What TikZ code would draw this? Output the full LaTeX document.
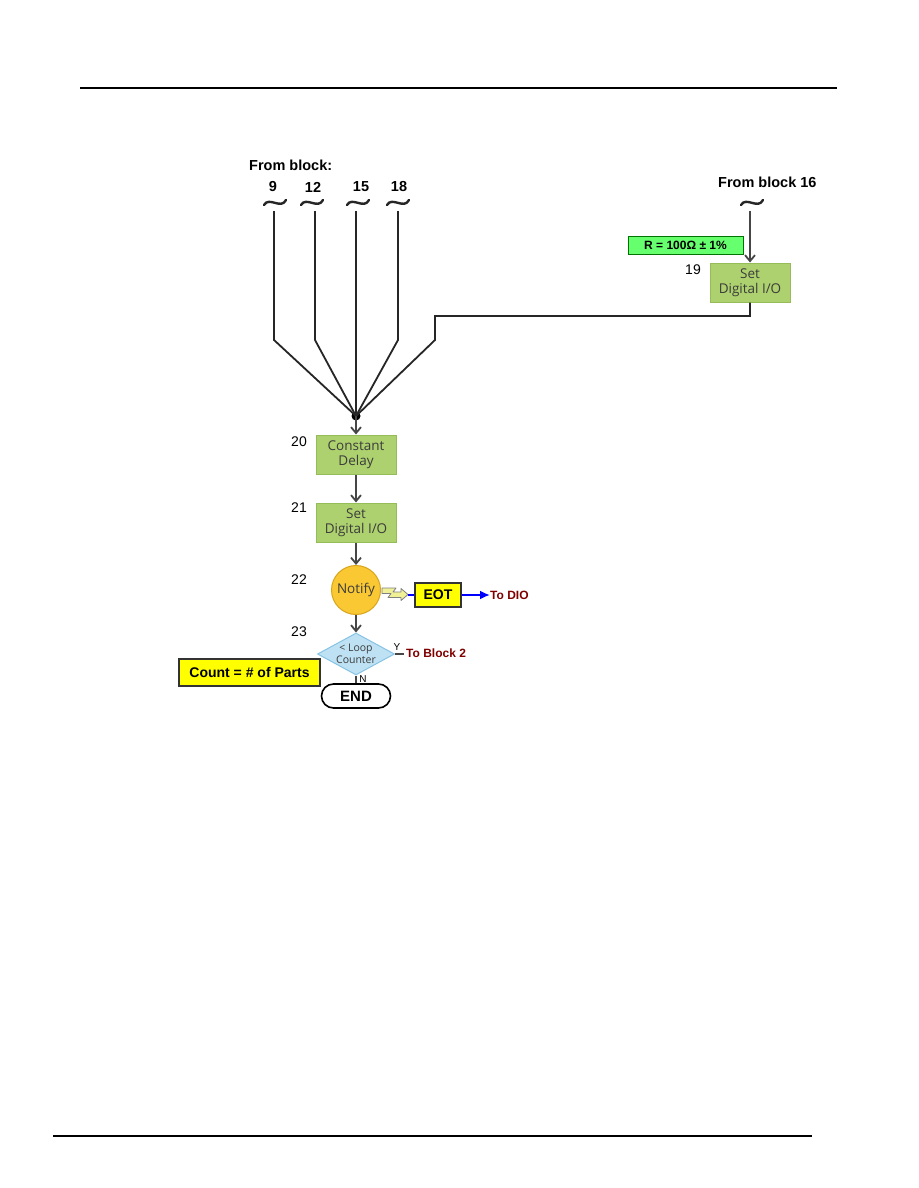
\documentclass[tikz,border=0pt]{standalone}
\usepackage{fontspec}
\setmainfont{Liberation Sans}
\newfontfamily\boxfont{Open Sans}
\usetikzlibrary{arrows.meta,shapes.geometric,shapes.misc}
\definecolor{boxgreen}{RGB}{173,209,110}
\definecolor{boxgreenborder}{RGB}{150,188,90}
\definecolor{boxtext}{RGB}{60,60,60}
\definecolor{notifyfill}{RGB}{250,200,50}
\definecolor{notifyborder}{RGB}{215,165,30}
\definecolor{diafill}{RGB}{190,226,244}
\definecolor{diaborder}{RGB}{135,195,228}
\definecolor{rgreen}{RGB}{102,255,110}
\definecolor{darkred}{RGB}{128,0,0}
\definecolor{flowgrey}{RGB}{70,70,70}
\definecolor{yel}{RGB}{255,255,0}
\definecolor{bolt}{RGB}{240,240,150}
\tikzset{
  gbox/.style={draw=boxgreenborder, fill=boxgreen, line width=1pt, minimum width=80pt, minimum height=39pt, inner sep=0pt, align=center, font=\boxfont\fontsize{13.5}{15}\selectfont, text=boxtext},
  numlbl/.style={font=\fontsize{14}{15}\selectfont, inner sep=0pt},
  fromlbl/.style={font=\bfseries\fontsize{14.5}{16}\selectfont, inner sep=0pt},
  wire/.style={draw=black!85, line width=1.8pt},
  flow/.style={draw=flowgrey, line width=1.8pt, -{Straight Barb[length=6pt,width=10pt]}},
  tildestyle/.style={draw=black!85, line width=2.4pt, line cap=round},
  redlbl/.style={font=\bfseries\fontsize{12}{13}\selectfont, text=darkred, inner sep=0pt, anchor=west},
  ybox/.style={draw=black!80, fill=yel, line width=1.2pt, inner sep=0pt, font=\bfseries\fontsize{14}{15}\selectfont},
}
\begin{document}
\begin{tikzpicture}[x=1pt,y=-1pt]
\useasboundingbox (0,0) rectangle (918,1188);
\fill[white] (0,0) rectangle (918,1188);
% page rules
\coordinate (rt1) at (80,88); \coordinate (rt2) at (837,88);
\coordinate (rb1) at (53,1136); \coordinate (rb2) at (812,1136);
\draw[line width=1.6pt] (rt1) -- (rt2);
\draw[line width=1.6pt] (rb1) -- (rb2);

% headers
\node[fromlbl, anchor=west] (fromblock) at (249,165) {From block:};
\node[fromlbl] (n9) at (273,187) {9};
\node[fromlbl] (n12) at (313,187) {12};
\node[fromlbl] (n15) at (361,187) {15};
\node[fromlbl] (n18) at (399,187) {18};
\node[fromlbl, anchor=west] (from16) at (718,182) {From block 16};

% tildes
\foreach \cx in {275, 312, 358, 398, 752}{
  \draw[tildestyle] (\cx-11,205) .. controls (\cx-6,196) and (\cx+6,210) .. (\cx+11,200);
}
\coordinate (t9) at (274,211);
\coordinate (t12) at (315,211);
\coordinate (t15) at (356,211);
\coordinate (t18) at (398,211);
\coordinate (t16) at (750,211);

% block 19
\node[gbox] (b19) at (750,282.5) {Set\\Digital I/O};
\node[numlbl] (l19) at (693,270) {19};
\node[draw=green!45!black, fill=rgreen, line width=0.6pt, minimum width=115pt, minimum height=18pt, inner sep=0pt, font=\bfseries\fontsize{12}{13}\selectfont] (rbox) at (685.5,245) {R = 100Ω ± 1\%};
\draw[flow] (t16) -- (b19.north);

% junction
\fill[black] (356,416) circle (4.5pt);
\coordinate (jn) at (356,416);
\coordinate (k9) at (274,340);
\coordinate (k12) at (315,340);
\coordinate (k18) at (398,340);
\coordinate (k19a) at (750,316);
\coordinate (k19b) at (435,316);
\coordinate (k19c) at (435,340);
\draw[wire] (t9) -- (k9) -- (jn);
\draw[wire] (t12) -- (k12) -- (jn);
\draw[wire] (t15) -- (jn);
\draw[wire] (t18) -- (k18) -- (jn);
\draw[wire, line join=miter] (b19.south) -- (k19a) -- (k19b) -- (k19c) -- (jn);

% blocks 20, 21
\node[gbox] (b20) at (356,454.5) {Constant\\Delay};
\node[numlbl] (l20) at (299,442) {20};
\node[gbox] (b21) at (356,522.5) {Set\\Digital I/O};
\node[numlbl] (l21) at (299,508) {21};
\draw[flow] (jn) -- (b20.north);
\draw[flow] (b20.south) -- (b21.north);

% notify
\node[circle, draw=notifyborder, fill=notifyfill, line width=1pt, minimum size=49pt, inner sep=0pt, font=\boxfont\fontsize{13.5}{14}\selectfont, text=boxtext] (notify) at (356,590) {Notify};
\node[numlbl] (l22) at (299,580) {22};
\draw[flow] (b21.south) -- (notify.north);

% lightning arrow
\draw[draw=gray, fill=bolt, line width=0.8pt, line join=round]
  (382,588) -- (396,588) -- (393,592) -- (401,592) -- (401,588.5) -- (408,594.5)
  -- (401,600.5) -- (401,597.5) -- (388,597.5) -- (391,593.5) -- (382,593.5) -- cycle;

% EOT
\node[ybox, minimum width=46pt, minimum height=24pt] (eot) at (438,595) {EOT};
\coordinate (boltend) at (408,595);
\draw[blue, line width=1.4pt] (boltend) -- (eot.west);
\node[redlbl] (todio) at (490,595) {To DIO};
\draw[blue, line width=2pt, -{Latex[length=10pt,width=9pt]}] (eot.east) -- (todio.west);

% diamond
\node[diamond, draw=diaborder, fill=diafill, line width=1pt, minimum width=77pt, minimum height=42pt, inner sep=0pt] (d23) at (356,654) {};
\node[font=\boxfont\fontsize{10.5}{12}\selectfont, text=boxtext, align=center, inner sep=0pt] (d23t) at (356,653.5) {<~Loop\\Counter};
\node[numlbl] (l23) at (299,632) {23};
\draw[flow] (notify.south) -- (d23.north);
\node[font=\fontsize{10}{11}\selectfont, inner sep=0pt] (ylbl) at (397,647) {Y};
\node[redlbl] (toblock2) at (406,653) {To Block 2};
\coordinate (yend) at (404,654);
\draw[flowgrey, line width=1.5pt] (d23.east) -- (yend);

% END
\node[rounded rectangle, draw=black, fill=white, line width=1.6pt, minimum width=69pt, minimum height=24pt, inner sep=0pt, font=\bfseries\fontsize{15}{16}\selectfont] (endn) at (356,696) {END};
\node[font=\fontsize{10}{11}\selectfont, inner sep=0pt] (nlbl) at (363,679) {N};
\draw[flowgrey, line width=1.8pt] (d23.south) -- (endn.north);

% count box
\node[ybox, minimum width=141pt, minimum height=27pt] (count) at (249.5,672.5) {Count = \# of Parts};
\end{tikzpicture}
\end{document}
